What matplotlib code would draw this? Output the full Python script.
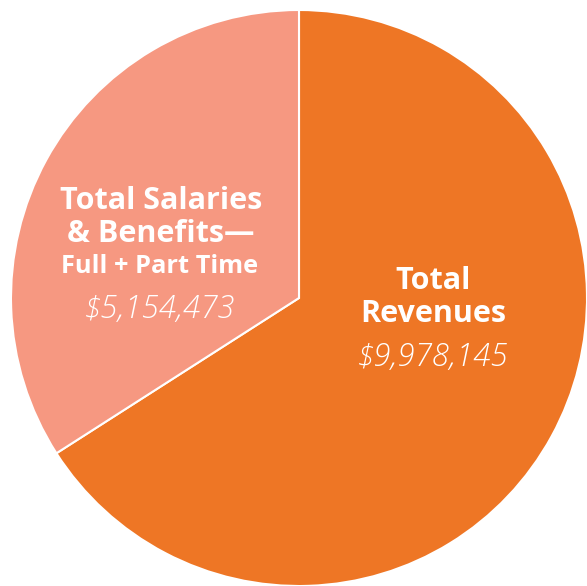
import matplotlib
matplotlib.use("Agg")
import matplotlib.pyplot as plt

# Data
labels = ["Total\nRevenues", "Total Salaries\n& Benefits\u2014"]
sublabels = ["", "Full + Part Time"]
values = [9978145, 5154473]
colors = ["#EE7625", "#F69881"]

W, H = 587, 586
cx, cy, r = 299, 298, 288

fig = plt.figure(figsize=(W / 100, H / 100), dpi=100)
ax = fig.add_axes([0, 0, 1, 1])
ax.pie(values, colors=colors, startangle=90, counterclock=False,
       radius=1, center=(0, 0),
       wedgeprops=dict(edgecolor="white", linewidth=1.5))
ax.set_xlim(-cx / r, (W - cx) / r)
ax.set_ylim(-(H - cy) / r, cy / r)
ax.set_aspect("equal")
ax.axis("off")


def px(x, y):
    return (x - cx) / r, (cy - y) / r


font = "Open Sans"
bold = dict(ha="center", va="baseline", color="white", fontweight="bold", family=font)
ital = dict(ha="center", va="baseline", color="white", fontweight=300,
            style="italic", family=font)

# Revenues
ax.text(*px(433, 289), "Total", fontsize=22, **bold)
ax.text(*px(433, 322), "Revenues", fontsize=22, **bold)
ax.text(*px(433, 366), "${:,}".format(values[0]), fontsize=22.5, **ital)

# Salaries
ax.text(*px(161, 209), "Total Salaries", fontsize=22, **bold)
ax.text(*px(161, 242), "& Benefits\u2014", fontsize=22, **bold)
ax.text(*px(160, 273), sublabels[1], fontsize=18.3, **bold)
ax.text(*px(160, 318), "${:,}".format(values[1]), fontsize=22.5, **ital)

fig.savefig("out.png", dpi=100)
